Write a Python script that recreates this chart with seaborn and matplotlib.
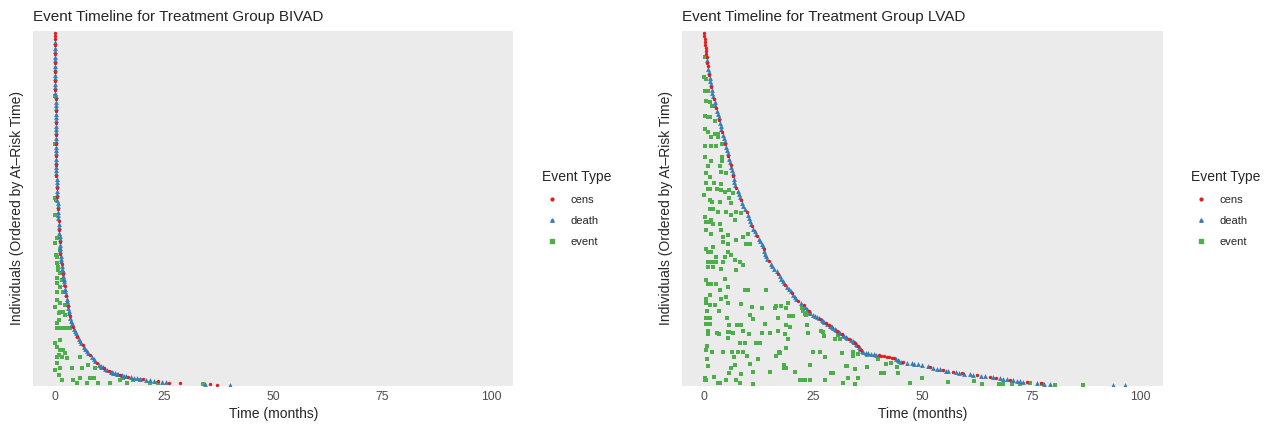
import matplotlib
matplotlib.use('Agg')
import matplotlib.pyplot as plt
from matplotlib.lines import Line2D
import seaborn as sns
import pandas as pd

# individuals ordered by at-risk time (rank 1 = longest)
bivad_rank = [708, 702, 696, 690, 684, 678, 672, 666, 660, 654, 648, 642, 636, 630, 624, 618,
              612, 606, 600, 594, 588, 582, 576, 570, 564, 558, 552, 546, 540, 534, 528, 522,
              516, 510, 504, 498, 492, 486, 480, 474, 468, 462, 456, 450, 444, 438,
              432, 426, 420, 414, 408, 402, 396, 390, 384, 378, 372, 366, 360, 354, 348, 342,
              336, 330, 324, 318, 312, 306, 300, 294, 288, 282, 276, 270,
              265, 260, 255, 250, 245, 240, 235, 230, 225, 220, 215, 210, 205, 200, 195, 190,
              185, 180, 175, 170, 165, 160, 155, 150, 145, 140, 135, 130,
              126, 122, 118, 114, 110, 106, 102, 98, 94, 90, 86, 82, 78, 74, 70, 66, 62, 58,
              54, 50, 46, 42,
              39, 38, 37, 36, 34, 32, 30, 28, 27, 26, 25, 24, 23, 22, 21, 20, 19, 18, 17, 16,
              15, 14, 13, 12, 11, 10, 9, 8, 7, 6, 5, 4, 3, 2, 1]
bivad_time = [0.00, 0.00, 0.01, 0.01, 0.02, 0.02, 0.02, 0.03, 0.03, 0.03, 0.04, 0.04, 0.05, 0.05,
              0.05, 0.06, 0.06, 0.07, 0.07, 0.08, 0.08, 0.09, 0.09, 0.10, 0.10, 0.11, 0.11, 0.12,
              0.12, 0.13, 0.13, 0.14, 0.15, 0.15, 0.16, 0.17, 0.17, 0.18, 0.19, 0.19, 0.20, 0.21,
              0.21, 0.22, 0.23, 0.24,
              0.26, 0.28, 0.30, 0.32, 0.35, 0.37, 0.40, 0.43, 0.46, 0.48, 0.50, 0.55, 0.60, 0.64,
              0.68, 0.72, 0.77, 0.81, 0.85, 0.90, 0.95, 1.00, 1.03, 1.06, 1.09, 1.12, 1.14, 1.17,
              1.22, 1.28, 1.35, 1.42, 1.50, 1.57, 1.64, 1.72, 1.80, 1.88, 1.95, 2.03, 2.11, 2.20,
              2.28, 2.37, 2.46, 2.55, 2.64, 2.74, 2.84, 2.94, 3.05, 3.16, 3.27, 3.39, 3.52, 3.66,
              3.8, 3.95, 4.1, 4.3, 4.5, 4.7, 4.9, 5.1, 5.4, 5.7, 6.0, 6.3, 6.6, 6.9, 7.2, 7.6,
              8.0, 8.4, 8.8, 9.2, 9.6, 10.1,
              10.4, 10.6, 10.9, 11.1, 11.5, 11.9, 12.3, 12.7, 13.0, 13.3, 13.7, 14.1, 14.5, 14.9,
              15.3, 15.8, 16.3, 16.8, 17.4, 18.0, 18.7, 19.4, 20.1, 20.9, 21.7, 22.6, 23.5, 24.4,
              25.3, 26.0, 28.6, 34.3, 35.5, 37.0, 40.0]
bivad_cens_ranks = [708, 702, 696, 684, 666, 648, 630, 612, 594, 576, 552, 528, 504, 486, 462,
                    444, 420, 396, 378, 354, 330, 312, 288, 265, 245, 225, 200, 180, 160, 140,
                    118, 98, 82, 62, 46, 36, 30, 22, 18, 13, 9, 6, 5, 3, 2]
bivad_event_rank = [582, 486, 376, 372, 342, 296, 286, 272, 262, 258, 246, 238, 232, 226, 216,
                    212, 206, 198, 188, 188, 172, 166, 162, 158, 148, 148, 146, 142, 132, 126,
                    116, 116, 116, 116, 116, 92, 86, 78, 72, 72, 66, 62, 58, 58, 58, 56, 46, 36,
                    36, 32, 36, 42, 36, 22, 16, 16, 16, 12, 12, 6, 6, 12, 16, 12, 6, 6, 4, 6, 6,
                    6, 12]
bivad_event_time = [0.0, 0.0, 0.0, 0.2, 0.0, 0.5, 0.0, 1.1, 0.2, 0.5, 0.4, 0.7, 0.7, 1.1, 0.4,
                    1.5, 0.4, 1.1, 0.4, 1.9, 0.4, 1.1, 2.3, 0.0, 1.1, 1.9, 0.8, 2.3, 0.9, 0.5,
                    0.4, 1.1, 1.9, 2.7, 3.4, 1.1, 0.0, 0.4, 1.1, 1.9, 2.3, 0.8, 0.4, 1.5, 5.7,
                    2.7, 0.4, 1.1, 3.8, 0.0, 6.1, 7.6, 9.2, 0.8, 5.7, 8.0, 8.8, 1.5, 4.2, 7.3,
                    9.9, 14.9, 15.6, 19.5, 21.8, 23.6, 34.0, 5.0, 12.6, 16.5, 17.9]

lvad_rank = [708, 702, 696, 690, 684, 678, 672, 666, 660, 654, 648, 642, 636,
             630, 624, 618, 612, 606, 600, 594, 588, 582, 576, 570, 564, 558, 552, 546, 540,
             534, 528, 522, 516, 510, 504, 498, 492, 486, 480, 474, 468, 462, 456, 450, 444,
             438, 432, 426, 420, 414, 408, 402, 396, 390, 384, 378, 372, 366, 360, 354, 348,
             342, 336, 330,
             325, 320, 315, 310, 305, 300, 295, 290, 285, 280, 275, 270, 265, 260, 255, 250,
             245, 240, 235, 230, 225, 220, 215, 210,
             206, 202, 198, 194, 190, 186, 182, 178, 174, 170, 166, 162, 158, 154, 150, 146, 142,
             140, 138, 136, 134, 132, 130, 128, 126, 124, 122, 120, 118, 116, 114, 112, 110,
             108, 106, 104, 102, 100, 98, 96, 94, 92, 90, 88, 86, 84, 82, 80, 78, 76, 74, 72,
             70, 68, 66, 64, 62,
             65, 63, 61, 60, 59, 58, 57, 56, 55, 54, 52, 50,
             48, 47, 46, 45, 44, 43, 41, 39, 38, 36, 34, 33, 31, 30, 29, 28, 27, 26, 25, 24,
             23, 22, 21, 20, 19, 18, 17, 16, 15, 14, 13, 12, 11, 10, 9, 8, 7, 6, 5, 4, 3, 2, 1]
lvad_time = [0.0, 0.07, 0.14, 0.22, 0.30, 0.37, 0.44, 0.50, 0.58, 0.66, 0.74, 0.82, 0.90,
             1.05, 1.2, 1.3, 1.4, 1.5, 1.6, 1.75, 1.9, 2.05, 2.2, 2.4, 2.55, 2.75, 2.95, 3.2,
             3.35, 3.5, 3.65, 3.8, 3.95, 4.15, 4.35, 4.55, 4.7, 4.85, 5.0, 5.15, 5.35, 5.5, 5.7,
             5.9, 6.05, 6.2, 6.35, 6.5, 6.65, 6.8, 6.95, 7.15, 7.4, 7.65, 7.9, 8.15, 8.35, 8.6,
             8.85, 9.3, 9.8, 10.0, 10.2, 10.45,
             10.7, 11.0, 11.3, 11.6, 11.9, 12.2, 12.6, 12.9, 13.2, 13.4, 13.6, 13.8, 14.0, 14.2,
             14.5, 14.8, 15.2, 15.6, 16.0, 16.6, 17.0, 17.3, 17.6, 18.0,
             18.3, 18.6, 19.0, 19.4, 19.8, 20.1, 20.4, 20.7, 21.0, 21.5, 22.2, 22.8, 23.2, 23.6,
             24.0, 24.3, 24.9,
             25.4, 25.8, 26.2, 26.6, 26.9, 27.2, 27.5, 27.9, 28.2, 28.6, 28.9, 29.2, 29.6, 29.9,
             30.2, 30.5, 30.8, 31.2, 31.5, 31.8, 32.1, 32.4, 32.8, 33.2, 33.6, 34.0, 34.4, 34.6,
             34.8, 35.0, 35.2, 35.5, 35.6, 35.8, 36.0, 36.2, 36.4, 37.0, 38.2, 39.4,
             37.6, 38.8, 40.0, 40.6, 41.2, 41.8, 42.4, 43.0, 43.5, 44.0, 44.4, 44.7,
             45.0, 45.6, 46.5, 47.5, 48.0, 48.9, 50.0, 51.2, 51.8, 52.5, 53.3, 54.0, 54.6, 55.3,
             55.8, 56.9, 57.6, 58.3, 59.0, 59.6, 60.8, 61.5, 62.4, 63.3, 64.3, 65.4, 66.2, 66.8,
             67.7, 68.5, 69.3, 70.0, 70.7, 71.6, 72.4, 73.0, 73.9, 76.2, 77.1, 77.8, 79.1, 93.6,
             96.3]
lvad_cens_ranks = [708, 702, 696, 690, 684, 678, 672, 666, 660, 648, 642, 624, 600, 576, 558,
                   534, 510, 486, 462, 444, 420, 396, 372, 348, 320, 300, 275, 250, 225, 202,
                   186, 170, 162, 150, 134, 126, 122, 110, 104, 94, 86, 80, 72, 61, 60, 59, 58,
                   57, 56, 55, 47, 38, 31, 28, 25, 21, 18, 16, 12, 7, 5]
lvad_event_rank = [659, 619, 615, 592, 592, 572, 569, 562, 542, 539, 539, 532, 516, 509, 506,
                   506, 499, 499, 482, 482, 482, 486, 460, 459, 452, 452, 442, 442, 426, 428,
                   419, 426, 406, 404, 406, 394, 394, 394, 392, 389, 392, 386, 382, 372, 369,
                   369, 376, 366, 354, 354, 349, 349, 349, 347, 342, 339, 332, 332, 329, 329,
                   325, 325, 312, 312, 305, 302, 299, 305, 299, 289, 285, 292, 285, 285, 275,
                   279, 269, 269, 269, 259, 259, 262, 249, 249, 249, 249, 249, 252, 249, 239,
                   239, 235, 242, 232, 215, 212, 205, 205, 205, 192, 199, 192, 192, 192, 182,
                   175, 175, 179, 167, 162, 162, 167, 164, 157, 155, 155, 160, 160, 155, 167,
                   149, 149, 142, 133, 135, 140, 140, 142, 144, 135, 135, 135, 123, 123, 122,
                   122, 122, 123, 121, 117, 121, 109, 104, 105, 103, 107, 107, 105, 109, 103,
                   105, 105, 109, 103, 105, 109, 100, 95, 93, 93, 93, 85, 85, 85, 85, 79, 72,
                   75, 67, 67, 67, 67, 67, 67, 65, 67, 67, 65, 57, 59, 53, 60, 53, 57, 42, 40,
                   44, 42, 35, 35, 41, 40, 35, 27, 25, 25, 25, 23, 27, 27, 17, 15, 11, 11, 11,
                   11, 5, 5, 11, 11, 11, 11, 11, 15, 3, 5, 5, 155, 149, 143, 143, 107, 117,
                   102, 85, 68, 63, 60, 61, 53, 44, 45, 37, 39, 37, 33, 25, 25, 25, 15, 15, 4,
                   6, 7, 10, 4, 4, 3, 3, 3, 6, 4, 2, 2]
lvad_event_time = [0.1, 0.0, 0.5, 0.3, 0.9, 0.5, 1.3, 1.9, 0.3, 0.9, 1.4, 2.4, 0.1, 0.8, 2.4,
                   3.1, 1.6, 3.1, 0.3, 1.6, 2.8, 4.2, 0.1, 4.2, 4.2, 1.6, 0.8, 3.6, 0.5, 3.9,
                   1.3, 5.1, 2.2, 3.9, 0.5, 0.8, 1.4, 3.0, 3.9, 4.7, 5.8, 6.5, 0.0, 1.4, 1.9,
                   3.6, 5.8, 6.2, 1.3, 2.0, 3.2, 4.9, 7.4, 8.5, 6.2, 0.3, 7.0, 1.6, 0.5, 1.3,
                   2.0, 3.6, 3.9, 0.5, 1.6, 5.5, 8.9, 10.0, 4.3, 4.3, 5.5, 7.4, 9.7, 10.4, 0.5,
                   2.0, 0.9, 1.6, 5.5, 2.8, 4.7, 6.2, 0.9, 1.3, 2.0, 2.8, 4.3, 7.0, 8.1, 0.9,
                   2.0, 3.9, 8.9, 7.4, 4.7, 0.5, 0.9, 1.6, 2.8, 3.6, 5.5, 9.3, 10.0, 14.2, 1.3,
                   3.9, 0.5, 5.1, 0.5, 1.3, 2.4, 5.5, 8.5, 11.0, 13.2, 16.2, 16.5, 17.7, 18.8,
                   19.2, 0.6, 3.4, 10.4, 11.2, 16.9, 19.4, 20.3, 23.4, 24.2, 0.5, 1.3, 5.2, 0.5,
                   1.3, 5.8, 7.5, 8.5, 13.9, 18.7, 19.6, 23.6, 0.9, 0.9, 2.9, 3.4, 5.5, 5.8,
                   6.6, 8.9, 10.3, 13.2, 15.0, 16.9, 18.5, 23.8, 26.8, 27.4, 5.5, 19.2, 29.9,
                   31.0, 8.1, 9.3, 11.8, 12.9, 0.6, 0.5, 18.8, 1.8, 4.3, 6.4, 7.7, 8.8, 17.1,
                   17.3, 24.9, 26.5, 31.6, 6.8, 9.8, 12.3, 16.5, 0.6, 27.6, 7.0, 0.9, 10.6,
                   18.3, 18.3, 18.8, 24.2, 32.6, 6.1, 20.7, 29.1, 29.5, 5.7, 8.5, 11.2, 15.0,
                   2.2, 0.3, 0.1, 0.5, 5.1, 7.4, 3.2, 3.7, 21.9, 22.5, 23.0, 24.2, 27.6, 32.9,
                   11.2, 8.1, 31.7, 22.5, 22.6, 23.0, 23.8, 27.2, 29.0, 30.7, 34.3, 34.2, 35.2,
                   34.1, 37.2, 39.8, 41.6, 42.9, 44.2, 32.4, 37.2, 34.5, 40.6, 41.1, 44.4, 49.8,
                   35.2, 34.5, 47.1, 55.9, 61.8, 63.6, 67.5, 68.4, 70.5, 72.3, 74.7, 77.3, 80.3,
                   86.8]

event_types = ['cens', 'death', 'event']
time_ticks = [0, 25, 50, 75, 100]


def build_frame(ranks, times, cens_ranks, ev_ranks, ev_times):
    cens = set(cens_ranks)
    curve = pd.DataFrame({'time': times, 'rank': ranks})
    curve['type'] = ['cens' if r in cens else 'death' for r in ranks]
    events = pd.DataFrame({'time': ev_times, 'rank': ev_ranks})
    events['type'] = 'event'
    return pd.concat([events, curve], ignore_index=True)


bivad = build_frame(bivad_rank, bivad_time, bivad_cens_ranks, bivad_event_rank, bivad_event_time)
lvad = build_frame(lvad_rank, lvad_time, lvad_cens_ranks, lvad_event_rank, lvad_event_time)

sns.set_style('white')
plt.rcParams['font.family'] = ['Liberation Sans', 'DejaVu Sans']

palette = dict(zip(event_types, sns.color_palette('Set1', 3)))
markers = {'cens': 'o', 'death': '^', 'event': 's'}
sizes = {'cens': 6, 'death': 12, 'event': 7}

fig = plt.figure(figsize=(12.73, 4.25), dpi=100)
ax_left = fig.add_axes([33.3 / 1273, 39.3 / 425, 480 / 1273, 354.7 / 425])
ax_right = fig.add_axes([682.3 / 1273, 39.3 / 425, 480.4 / 1273, 354.7 / 425])

panels = [(ax_left, bivad, 'Event Timeline for Treatment Group BIVAD'),
          (ax_right, lvad, 'Event Timeline for Treatment Group LVAD')]

for ax, df, title in panels:
    for kind in ['event', 'death', 'cens']:
        sub = df[df['type'] == kind]
        sns.scatterplot(data=sub, x='time', y='rank', color=palette[kind], marker=markers[kind],
                        s=sizes[kind], linewidth=0, ax=ax, legend=False)
    ax.set_facecolor('#EBEBEB')
    ax.set_xlim(-5, 105)
    ax.set_ylim(0, 712)
    ax.set_xticks(time_ticks)
    ax.set_xticklabels([str(t) for t in time_ticks])
    ax.set_yticks([])
    ax.tick_params(axis='x', length=0, pad=4, labelsize=8.8, labelcolor='#4D4D4D')
    for sp in ax.spines.values():
        sp.set_visible(False)
    ax.set_title(title, loc='left', fontsize=11, pad=7.5)
    ax.set_xlabel('Time (months)', fontsize=10, labelpad=2.5)
    ax.set_ylabel('Individuals (Ordered by At\u2013Risk Time)', fontsize=10, labelpad=7)

    handles = [Line2D([], [], linestyle='', marker=markers[k], color=palette[k],
                      markersize={'cens': 2, 'death': 2.5, 'event': 3}[k]) for k in event_types]
    leg = ax.legend(handles, event_types, title='Event Type', loc='center left',
                    bbox_to_anchor=(1.038, 0.5), frameon=False, fontsize=8,
                    title_fontsize=10, handlelength=1.8, handletextpad=0.8,
                    labelspacing=1.0, alignment='left')

fig.savefig('out.png', dpi=100)
